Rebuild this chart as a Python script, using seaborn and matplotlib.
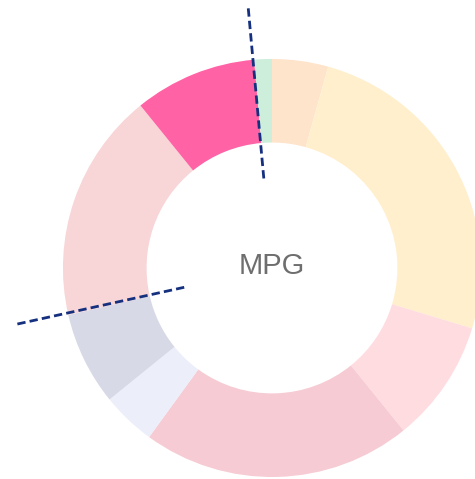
import numpy as np
import matplotlib
matplotlib.use("Agg")
import matplotlib.pyplot as plt
import seaborn as sns

segments = ["s1", "s2", "s3", "s4", "s5", "s6", "s7", "s8", "s9"]
shares = [15.6, 91.2, 34.2, 75.0, 15.0, 26.0, 64.0, 34.1, 4.9]
colors = ["#FFE4CC", "#FFEFCC", "#FFDCE0", "#F6CBD3", "#ECEEFA",
          "#D7D9E6", "#F8D5D6", "#FF62A5", "#CCEEDA"]

# dashed markers, as a fraction of the full ring
marker_pos = [0.9855, 0.7155]
center_label = "MPG"

sns.set_theme(style="white")
plt.rcParams['font.family'] = ['Liberation Sans', 'DejaVu Sans']

fig = plt.figure(figsize=(4.75, 4.79), dpi=100)
ax = fig.add_axes([0, 0, 1, 1])

ax.pie(shares, colors=colors, startangle=90, counterclock=False, radius=1.0,
       wedgeprops=dict(width=0.4, linewidth=0))

for p in marker_pos:
    theta = np.pi / 2 - 2 * np.pi * p
    r = np.array([0.43, 1.26])
    ax.plot(r * np.cos(theta), r * np.sin(theta), color="#15307F",
            lw=2.0, linestyle=(0, (3.0, 1.5)))

ax.text(0, 0.01, center_label, ha="center", va="center", fontsize=21,
        color="#6E6E6E")

ax.set_xlim(-1.301, 0.971)
ax.set_ylim(-1.0096, 1.282)
ax.set_aspect("equal")
ax.axis("off")

fig.savefig("out.png", dpi=100)
